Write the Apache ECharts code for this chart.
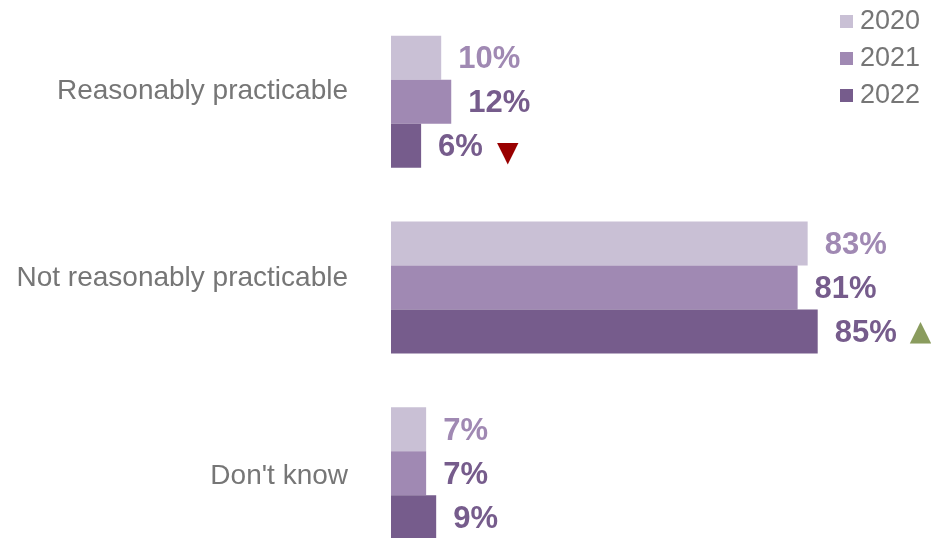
<!DOCTYPE html>
<html>
<head>
<meta charset="utf-8">
<script src="https://cdn.jsdelivr.net/npm/echarts@6/dist/echarts.min.js"></script>
<style>
	html, body { margin: 0; padding: 0; background: #fff; }
	#chart { width: 931px; height: 538px; }
</style>
</head>
<body>
<div id="chart"></div>
<script>
// Data
let categorias = ['Reasonably practicable', 'Not reasonably practicable', "Don't know"];
let years = ['2020', '2021', '2022'];
let valores2020 = [10, 83, 7];
let valores2021 = [12, 81, 7];
let valores2022 = [6, 85, 9];
// significant change vs previous year (2022 only)
let cambios2022 = ['down', 'up', ''];

let colores = ['#c9c0d5', '#a089b3', '#765c8c'];
let coloresTexto = ['#a089b3', '#765c8c', '#765c8c'];

var chart = echarts.init(document.getElementById('chart'));

function serie(i, datos, cambios) {
	return {
		name: years[i],
		type: 'bar',
		data: datos,
		barWidth: 44,
		barGap: '0%',
		itemStyle: { color: colores[i] },
		label: {
			show: true,
			position: 'right',
			distance: 17,
			offset: [0, 2],
			formatter: function (p) {
				let txt = '{v|' + p.value + '%}';
				if (cambios && cambios[p.dataIndex] === 'down') txt += '{dn|▼}';
				if (cambios && cambios[p.dataIndex] === 'up') txt += '{up|▲}';
				return txt;
			},
			rich: {
				v: {
					fontFamily: 'Liberation Sans, Arial, sans-serif',
					fontWeight: 'bold',
					fontSize: 31,
					color: coloresTexto[i]
				},
				dn: {
					fontFamily: 'DejaVu Sans',
					fontSize: 28,
					color: '#990000',
					padding: [12, 0, 0, 14]
				},
				up: {
					fontFamily: 'DejaVu Sans',
					fontSize: 28,
					color: '#8a9c5e',
					padding: [0, 0, 2, 13]
				}
			}
		}
	};
}

var option = {
	animation: false,
	textStyle: {
		fontFamily: 'Liberation Sans, Arial, sans-serif'
	},
	grid: {
		left: 391,
		top: 9,
		width: 502,
		height: 557,
		containLabel: false,
		outerBoundsMode: 'none'
	},
	legend: {
		data: years,
		orient: 'vertical',
		left: 835,
		top: 3,
		itemWidth: 13,
		itemHeight: 13,
		itemGap: 10,
		icon: 'rect',
		textStyle: {
			color: '#767676',
			fontSize: 27,
			lineHeight: 24,
			padding: [0, 0, 0, 2]
		}
	},
	xAxis: {
		type: 'value',
		min: 0,
		max: 100,
		show: false
	},
	yAxis: {
		type: 'category',
		data: categorias,
		inverse: true,
		axisLine: { show: false },
		axisTick: { show: false },
		axisLabel: {
			margin: 43,
			color: '#767676',
			fontSize: 28,
			formatter: function (value, index) {
				return '{c' + index + '|' + value + '}';
			},
			rich: {
				c0: { fontSize: 28, color: '#767676', padding: [0, 0, 22, 0] },
				c1: { fontSize: 28, color: '#767676', padding: [0, 0, 18, 0] },
				c2: { fontSize: 28, color: '#767676', padding: [6, 0, 0, 0] }
			}
		}
	},
	series: [
		serie(0, valores2020),
		serie(1, valores2021),
		serie(2, valores2022, cambios2022)
	]
};

chart.setOption(option);
</script>
</body>
</html>
